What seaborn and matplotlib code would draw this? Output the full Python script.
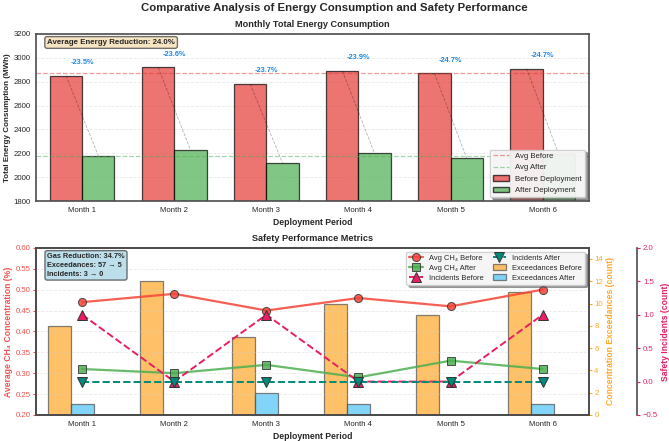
import numpy as np
import pandas as pd
from matplotlib import pyplot as plt
from matplotlib.lines import Line2D
from matplotlib.patches import Patch
import seaborn as sns

months = ["Month 1", "Month 2", "Month 3", "Month 4", "Month 5", "Month 6"]

# energy consumption (MWh)
energy_before = [2850, 2920, 2780, 2890, 2870, 2910]
energy_after = [2180, 2231, 2120, 2199, 2160, 2191]

# safety metrics
ch4_before = [0.47, 0.49, 0.45, 0.48, 0.46, 0.50]
ch4_after = [0.31, 0.30, 0.32, 0.29, 0.33, 0.31]
exceed_before = [8, 12, 7, 10, 9, 11]
exceed_after = [1, 0, 2, 1, 0, 1]
incidents_before = [1, 0, 1, 0, 0, 1]
incidents_after = [0, 0, 0, 0, 0, 0]

sns.set_style("whitegrid", {"axes.edgecolor": "0.3", "grid.linestyle": "--"})
plt.rcParams['font.family'] = ['Liberation Sans', 'DejaVu Sans']
plt.rcParams['axes.linewidth'] = 1.2

c_red = "#E53935"
c_green = "#4CAF50"
c_orange = "#FFA726"
c_blue = "#4FC3F7"
c_pink = "#E91E63"
c_teal = "#00897B"

tick_fs = 5.6
lab_fs = 6.2

fig = plt.figure(figsize=(6.69, 4.41), dpi=100)
ax_top = fig.add_axes([0.054, 0.544, 0.826, 0.379])
ax = fig.add_axes([0.054, 0.059, 0.826, 0.379])

fig.suptitle("Comparative Analysis of Energy Consumption and Safety Performance",
             fontsize=8.2, fontweight="bold", y=0.993)

# ---- top: energy bars
df = pd.DataFrame({
    "Month": months * 2,
    "Energy": energy_before + energy_after,
    "Period": ["Before Deployment"] * 6 + ["After Deployment"] * 6,
})
sns.barplot(data=df, x="Month", y="Energy", hue="Period", ax=ax_top,
            palette=[c_red, c_green], saturation=1, alpha=0.7, width=0.7, gap=0,
            edgecolor="black", linewidth=0.9, legend=False)

avg_b = np.mean(energy_before)
avg_a = np.mean(energy_after)
ax_top.axhline(avg_b, color=c_red, ls="--", lw=0.9, alpha=0.5)
ax_top.axhline(avg_a, color=c_green, ls="--", lw=0.9, alpha=0.5)

w = 0.35
reductions = []
for i in range(len(months)):
    b, a = energy_before[i], energy_after[i]
    red = (a - b) / b * 100
    reductions.append(-red)
    ax_top.plot([i - w / 2, i + w / 2], [b, a], "k--", lw=0.6, alpha=0.3)
    ax_top.text(i, b + 110, f"{red:.1f}%", ha="center", va="center",
                fontsize=5.3, color="#1E88E5", fontweight="bold")

ax_top.text(0.02, 0.97, f"Average Energy Reduction: {np.mean(reductions):.1f}%",
            transform=ax_top.transAxes, ha="left", va="top", fontsize=5.7,
            fontweight="bold",
            bbox=dict(boxstyle="round,pad=0.3", facecolor="wheat", alpha=0.8, edgecolor="0.3"))

ax_top.set_ylim(1800, 3200)
ax_top.set_xlim(-0.5, 5.5)
ax_top.set_title("Monthly Total Energy Consumption", fontsize=6.6, fontweight="bold", pad=5)
ax_top.set_xlabel("Deployment Period", fontsize=lab_fs, fontweight="bold", labelpad=3)
ax_top.set_ylabel("Total Energy Consumption (MWh)", fontsize=5.8, fontweight="bold",
                  labelpad=2)
ax_top.tick_params(labelsize=tick_fs, length=2, pad=2)
ax_top.grid(axis="x", visible=False)
ax_top.grid(axis="y", alpha=0.4, lw=0.6)

top_handles = [
    Line2D([], [], color=c_red, ls="--", lw=0.9, alpha=0.5, label="Avg Before"),
    Line2D([], [], color=c_green, ls="--", lw=0.9, alpha=0.5, label="Avg After"),
    Patch(facecolor=c_red, alpha=0.7, edgecolor="black", label="Before Deployment"),
    Patch(facecolor=c_green, alpha=0.7, edgecolor="black", label="After Deployment"),
]
ax_top.legend(handles=top_handles, loc="lower right", fontsize=5.6, shadow=True,
              frameon=True, framealpha=0.9)

# ---- bottom: safety metrics
x = np.arange(len(months))
ax2 = ax.twinx()
ax3 = ax.twinx()
ax2.set_zorder(1)
ax.set_zorder(2)
ax3.set_zorder(3)
ax.patch.set_visible(False)
ax3.patch.set_visible(False)

bw = 0.25
ax2.bar(x - bw, exceed_before, bw, color=c_orange, alpha=0.7, edgecolor="0.3",
        linewidth=0.9, label="Exceedances Before")
ax2.bar(x, exceed_after, bw, color=c_blue, alpha=0.7, edgecolor="0.3",
        linewidth=0.9, label="Exceedances After")
ax2.set_ylim(0, 15)
ax2.set_yticks([0, 2, 4, 6, 8, 10, 12, 14])
ax2.grid(False)
ax2.set_ylabel("Concentration Exceedances (count)", color=c_orange, fontsize=lab_fs,
               fontweight="bold", labelpad=2)
ax2.tick_params(axis="y", colors=c_orange, labelsize=tick_fs, length=2, pad=2)

sns.lineplot(x=x, y=ch4_before, ax=ax, color="#F44336", lw=1.6, alpha=0.85,
             marker="o", markersize=5.8, markeredgecolor="0.2", markeredgewidth=0.7,
             label="Avg CH\u2084 Before", legend=False)
sns.lineplot(x=x, y=ch4_after, ax=ax, color=c_green, lw=1.6, alpha=0.85,
             marker="s", markersize=5.3, markeredgecolor="0.2", markeredgewidth=0.7,
             label="Avg CH\u2084 After", legend=False)
ax.set_ylim(0.2, 0.6)
ax.set_xlim(-0.5, 5.5)
ax.set_xticks(x)
ax.set_xticklabels(months)
ax.set_ylabel("Average CH\u2084 Concentration (%)", color="#EF5350", fontsize=lab_fs,
              fontweight="bold", labelpad=2)
ax.tick_params(axis="y", colors="#EF5350", labelsize=tick_fs, length=2, pad=2)
ax.tick_params(axis="x", labelsize=tick_fs, length=2, pad=2)
ax.grid(axis="x", visible=False)
ax.grid(axis="y", alpha=0.4, lw=0.6)
ax.set_xlabel("Deployment Period", fontsize=lab_fs, fontweight="bold", labelpad=3)
ax.set_title("Safety Performance Metrics", fontsize=6.6, fontweight="bold", pad=5)

ax3.spines["right"].set_position(("axes", 1.088))
sns.lineplot(x=x, y=incidents_before, ax=ax3, color=c_pink, lw=1.4, ls="--",
             marker="^", markersize=6.5, markeredgecolor="0.2", markeredgewidth=0.7,
             label="Incidents Before", legend=False)
sns.lineplot(x=x, y=incidents_after, ax=ax3, color=c_teal, lw=1.4, ls="--",
             marker="v", markersize=6.5, markeredgecolor="0.2", markeredgewidth=0.7,
             label="Incidents After", legend=False)
ax3.set_ylim(-0.5, 2.0)
ax3.set_yticks([-0.5, 0.0, 0.5, 1.0, 1.5, 2.0])
ax3.grid(False)
ax3.set_ylabel("Safety Incidents (count)", color=c_pink, fontsize=lab_fs,
               fontweight="bold", labelpad=2)
ax3.tick_params(axis="y", colors=c_pink, labelsize=tick_fs, length=2, pad=2)

h1, l1 = ax.get_legend_handles_labels()
h3, l3 = ax3.get_legend_handles_labels()
h2, l2 = ax2.get_legend_handles_labels()
ax3.legend(h1 + h3 + h2, l1 + l3 + l2, loc="upper right", ncol=2, fontsize=5.4,
           shadow=True, frameon=True, framealpha=0.9, columnspacing=1.2,
           handlelength=1.8, labelspacing=0.35)

gas_red = (np.mean(ch4_before) - np.mean(ch4_after)) / np.mean(ch4_before) * 100
info = (f"Gas Reduction: {gas_red:.1f}%\n"
        f"Exceedances: {sum(exceed_before)} \u2192 {sum(exceed_after)}\n"
        f"Incidents: {sum(incidents_before)} \u2192 {sum(incidents_after)}")
ax3.text(0.02, 0.97, info, transform=ax.transAxes, ha="left", va="top", fontsize=5.3,
         fontweight="bold", linespacing=1.4,
         bbox=dict(boxstyle="round,pad=0.3", facecolor="lightblue", alpha=0.8, edgecolor="0.3"))

fig.savefig("out.png", dpi=100)
